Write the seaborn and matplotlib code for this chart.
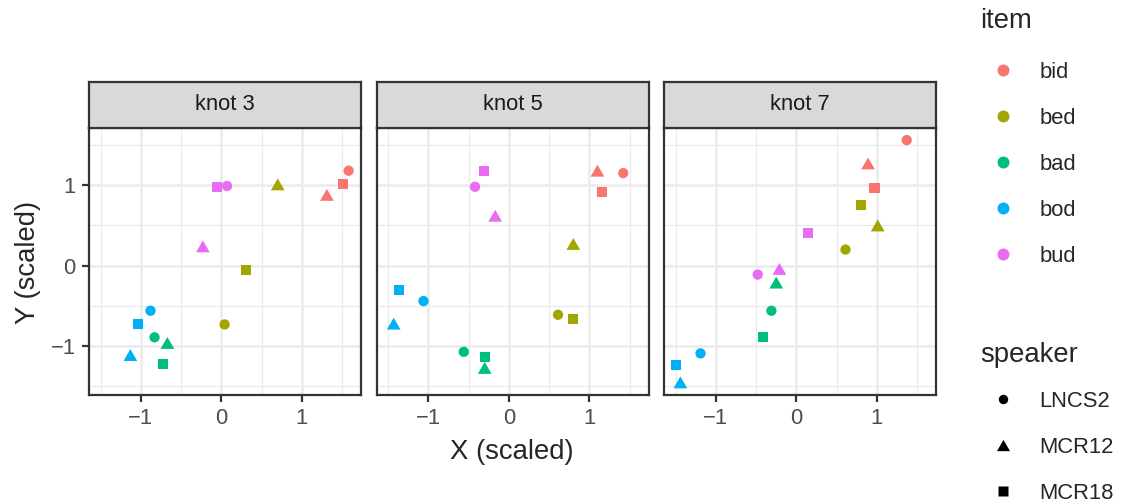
import matplotlib
matplotlib.use("Agg")
import matplotlib.pyplot as plt
from matplotlib.lines import Line2D
from matplotlib.path import Path
import pandas as pd
import seaborn as sns

items = ["bid", "bed", "bad", "bod", "bud"]
speakers = ["LNCS2", "MCR12", "MCR18"]
knots = ["knot 3", "knot 5", "knot 7"]

# Scaled coordinates, grouped by item (LNCS2, MCR12, MCR18 within each item)
x_knot3 = [1.58, 1.31, 1.51,   0.04, 0.70, 0.30,   -0.83, -0.67, -0.72,   -0.88, -1.13, -1.04,   0.07, -0.23, -0.06]
y_knot3 = [1.18, 0.88, 1.02,  -0.73, 1.01, -0.05,  -0.89, -0.96, -1.22,   -0.56, -1.11, -0.73,   0.99, 0.24, 0.98]
x_knot5 = [1.42, 1.10, 1.16,   0.61, 0.80, 0.80,   -0.56, -0.30, -0.30,   -1.06, -1.43, -1.36,  -0.42, -0.17, -0.31]
y_knot5 = [1.15, 1.18, 0.91,  -0.61, 0.27, -0.66,  -1.07, -1.27, -1.13,   -0.44, -0.72, -0.30,   0.98, 0.62, 1.18]
x_knot7 = [1.37, 0.89, 0.97,   0.61, 1.01, 0.80,   -0.31, -0.25, -0.42,   -1.19, -1.44, -1.49,  -0.48, -0.21, 0.15]
y_knot7 = [1.56, 1.27, 0.96,   0.20, 0.50, 0.75,   -0.56, -0.21, -0.89,   -1.09, -1.45, -1.24,  -0.11, -0.04, 0.41]

item_colors = ["#F8766D", "#A3A500", "#00BF7D", "#00B0F6", "#E76BF3"]

rows = []
for knot, xs, ys in zip(knots, [x_knot3, x_knot5, x_knot7], [y_knot3, y_knot5, y_knot7]):
    k = 0
    for it in items:
        for sp in speakers:
            rows.append((knot, it, sp, xs[k], ys[k]))
            k += 1
df = pd.DataFrame(rows, columns=["knot", "item", "speaker", "x", "y"])

sns.set_theme(style="white")
plt.rcParams["font.family"] = ["Liberation Sans", "DejaVu Sans"]

# equilateral triangle (filled), like a solid plotting triangle
TRI = Path([(-1, -0.866), (1, -0.866), (0, 0.866), (-1, -0.866)],
           [Path.MOVETO, Path.LINETO, Path.LINETO, Path.CLOSEPOLY])
marker_of = {"LNCS2": "o", "MCR12": TRI, "MCR18": "s"}
size_of = {"LNCS2": 55, "MCR12": 98, "MCR18": 52}

# shared limits with 5% padding on each side
def padded(v):
    lo, hi = min(v), max(v)
    d = (hi - lo) * 0.05
    return lo - d, hi + d

xlim = padded(df["x"])
ylim = padded(df["y"])

W, H = 1125, 504
fig = plt.figure(figsize=(W / 100, H / 100), dpi=100)
lefts = [89, 376.5, 664]
pw, top, bottom = 272, 128, 394.5
strip_h = 46

edge = "#333333"
grid_c = "#EBEBEB"
tick_c = "#4D4D4D"
small_fs = 15.8
big_fs = 19.8

for i, (knot, left) in enumerate(zip(knots, lefts)):
    ax = fig.add_axes([left / W, 1 - bottom / H, pw / W, (bottom - top) / H])
    sub = df[df["knot"] == knot]
    for sp in speakers:
        sns.scatterplot(data=sub[sub["speaker"] == sp], x="x", y="y", hue="item",
                        hue_order=items, palette=item_colors, marker=marker_of[sp],
                        s=size_of[sp], linewidth=0, legend=False, ax=ax, zorder=3)
    ax.set_xlim(*xlim)
    ax.set_ylim(*ylim)
    ax.set_xticks([-1, 0, 1])
    ax.set_yticks([-1, 0, 1])
    ax.set_xticks([-1.5, -0.5, 0.5, 1.5], minor=True)
    ax.set_yticks([-1.5, -0.5, 0.5, 1.5], minor=True)
    ax.grid(which="major", color=grid_c, lw=1.8)
    ax.grid(which="minor", color=grid_c, lw=0.9)
    ax.set_axisbelow(True)
    ax.set_facecolor("white")
    for s in ax.spines.values():
        s.set_color(edge)
        s.set_linewidth(1.6)
    ax.tick_params(which="major", direction="out", length=5, width=1.6, color=edge,
                   labelsize=small_fs, labelcolor=tick_c, pad=4.5,
                   bottom=True, left=(i == 0), labelleft=(i == 0))
    ax.tick_params(which="minor", length=0)
    ax.set_xlabel("")
    ax.set_ylabel("")

    sax = fig.add_axes([left / W, 1 - top / H, pw / W, strip_h / H])
    sax.set_facecolor("#D9D9D9")
    sax.set_xticks([])
    sax.set_yticks([])
    for s in sax.spines.values():
        s.set_color(edge)
        s.set_linewidth(1.6)
    sax.text(0.5, 0.5, knot, ha="center", va="center", fontsize=small_fs,
             color="#1A1A1A", transform=sax.transAxes)

fig.text(512 / W, 1 - 452 / H, "X (scaled)", ha="center", va="center", fontsize=big_fs)
fig.text(28 / W, 1 - 262 / H, "Y (scaled)", ha="center", va="center",
         rotation=90, fontsize=big_fs)

legend_kw = dict(loc="upper left", frameon=False, fontsize=small_fs,
                 title_fontsize=big_fs, handlelength=2.1, handletextpad=0.6,
                 labelspacing=1.14, borderpad=0, borderaxespad=0, alignment="left")

item_handles = [Line2D([], [], ls="none", marker="o", ms=8.6, mfc=c, mec="none")
                for c in item_colors]
leg_item = fig.legend(item_handles, items, title="item",
                      bbox_to_anchor=(980 / W, 1 - 8 / H), **legend_kw)

spk_handles = [Line2D([], [], ls="none", marker="o", ms=6.8, mfc="black", mec="none"),
               Line2D([], [], ls="none", marker=TRI, ms=9.4, mfc="black", mec="none"),
               Line2D([], [], ls="none", marker="s", ms=7.0, mfc="black", mec="none")]
leg_spk = fig.legend(spk_handles, speakers, title="speaker",
                     bbox_to_anchor=(980 / W, 1 - 342 / H), **legend_kw)

# room between each legend title and its keys
leg_item._legend_box.sep = 20
leg_spk._legend_box.sep = 16.5

fig.savefig("out.png", dpi=100)
